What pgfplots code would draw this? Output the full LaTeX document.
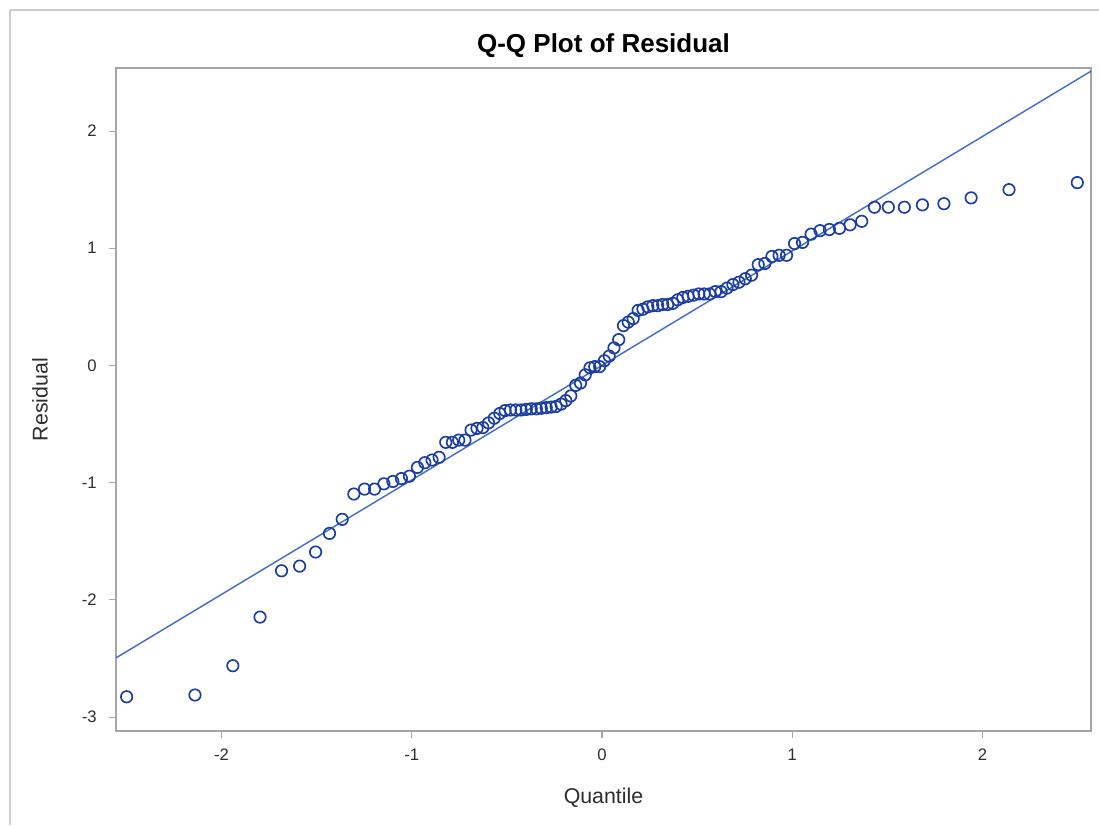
\documentclass[border=0pt]{standalone}
\usepackage{pgfplots}
\usepackage{pgfplotstable}
\pgfplotsset{compat=1.18}
\usepackage{fontspec}
\setmainfont{Liberation Sans}

\definecolor{markblue}{RGB}{28,62,160}
\definecolor{fitblue}{RGB}{70,110,200}
\definecolor{framegray}{RGB}{205,205,205}
\definecolor{axisgray}{RGB}{165,165,165}
\definecolor{labelgray}{RGB}{45,45,45}

% normal quantile vs. ordered residual
\pgfplotstableread{
q r
-2.498 -2.827
-2.139 -2.812
-1.940 -2.562
-1.797 -2.147
-1.684 -1.752
-1.589 -1.712
-1.505 -1.592
-1.432 -1.433
-1.365 -1.313
-1.304 -1.097
-1.248 -1.055
-1.195 -1.055
-1.146 -1.010
-1.099 -0.990
-1.054 -0.965
-1.012 -0.945
-0.970 -0.870
-0.931 -0.830
-0.893 -0.807
-0.856 -0.784
-0.821 -0.656
-0.786 -0.656
-0.753 -0.637
-0.720 -0.637
-0.688 -0.551
-0.657 -0.537
-0.626 -0.530
-0.596 -0.490
-0.566 -0.450
-0.537 -0.410
-0.509 -0.385
-0.481 -0.380
-0.453 -0.380
-0.425 -0.380
-0.398 -0.375
-0.372 -0.370
-0.345 -0.370
-0.319 -0.365
-0.293 -0.360
-0.267 -0.355
-0.241 -0.350
-0.215 -0.330
-0.190 -0.300
-0.164 -0.260
-0.138 -0.170
-0.113 -0.150
-0.088 -0.080
-0.063 -0.020
-0.038 -0.010
-0.0125 -0.010
0.0125 0.040
0.038 0.080
0.063 0.150
0.088 0.220
0.113 0.340
0.138 0.370
0.164 0.400
0.190 0.470
0.215 0.480
0.241 0.500
0.267 0.510
0.293 0.510
0.319 0.520
0.345 0.520
0.372 0.530
0.398 0.560
0.425 0.580
0.453 0.590
0.481 0.600
0.509 0.610
0.537 0.610
0.566 0.610
0.596 0.630
0.626 0.630
0.657 0.660
0.688 0.690
0.720 0.710
0.753 0.740
0.786 0.770
0.821 0.860
0.856 0.870
0.893 0.930
0.931 0.940
0.970 0.940
1.012 1.040
1.054 1.050
1.099 1.120
1.146 1.150
1.195 1.160
1.248 1.170
1.304 1.200
1.365 1.230
1.432 1.350
1.505 1.350
1.589 1.350
1.684 1.370
1.797 1.380
1.940 1.430
2.139 1.500
2.498 1.560
}\qqdata

\begin{document}
\begin{tikzpicture}
\useasboundingbox (0,0) rectangle (824.25pt,618.75pt);
% outer graph frame
\draw[framegray, line width=0.9pt] (7.5pt,0) -- (7.5pt,611.25pt) -- (824.25pt,611.25pt);
\begin{axis}[
  at={(87pt,70.5pt)}, anchor=south west,
  scale only axis,
  width=731.25pt, height=497.25pt,
  xmin=-2.554, xmax=2.570,
  ymin=-3.119, ymax=2.538,
  xtick={-2,-1,0,1,2},
  xticklabels={-2,-1,0,1,2},
  ytick={-3,-2,-1,0,1,2},
  yticklabels={-3,-2,-1,0,1,2},
  tick pos=left,
  tick align=outside,
  major tick length=5pt,
  every tick/.style={axisgray, line width=0.8pt},
  axis line style={axisgray, line width=0.8pt},
  tick label style={font=\fontsize{12.5pt}{14pt}\selectfont, text=labelgray},
  xticklabel style={yshift=-5pt},
  yticklabel style={xshift=-6pt},
  title={Q-Q Plot of Residual},
  title style={font=\fontsize{19.5pt}{22pt}\selectfont\bfseries, text=black,
    at={(axis description cs:0.5,1)}, anchor=center, yshift=11pt},
  xlabel={Quantile},
  ylabel={Residual},
  label style={font=\fontsize{16pt}{18pt}\selectfont, text=labelgray},
  xlabel style={at={(axis description cs:0.5,0)}, anchor=center, yshift=-50pt},
  ylabel style={at={(axis description cs:0,0.5)}, anchor=center, rotate=0, xshift=0pt, yshift=57pt},
  clip=true,
]
\addplot[fitblue, line width=1.1pt] coordinates {(-2.7,-2.638) (2.7,2.638)};
\addplot[only marks, mark=o, mark size=4.3pt,
  mark options={draw=markblue, line width=1.25pt, fill=none}]
  table[x=q, y=r] {\qqdata};
\end{axis}
\end{tikzpicture}
\end{document}
